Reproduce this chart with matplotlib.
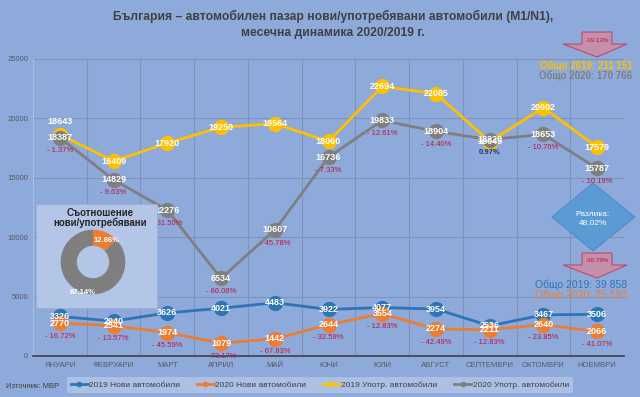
import matplotlib
matplotlib.use('Agg')
import matplotlib.pyplot as plt
from matplotlib.patches import Polygon, Rectangle
from matplotlib.lines import Line2D

plt.rcParams['font.family'] = ['Liberation Sans', 'DejaVu Sans']

months = ['ЯНУАРИ', 'ФЕВРУАРИ', 'МАРТ', 'АПРИЛ', 'МАЙ', 'ЮНИ', 'ЮЛИ',
          'АВГУСТ', 'СЕПТЕМВРИ', 'ОКТОМВРИ', 'НОЕМВРИ']
new_2019 = [3326, 2940, 3626, 4021, 4483, 3922, 4077, 3954, 2536, 3467, 3506]
new_2020 = [2770, 2541, 1974, 1079, 1442, 2644, 3554, 2274, 2211, 2640, 2066]
new_pct = ['- 16.72%', '- 13.57%', '- 45.59%', '- 73.17%', '- 67.83%', '- 32.59%',
           '- 12.83%', '- 42.49%', '- 12.83%', '- 23.85%', '- 41.07%']
used_2019 = [18643, 16409, 17920, 19250, 19564, 18060, 22694, 22085, 18045, 20902, 17579]
used_2020 = [18387, 14829, 12276, 6534, 10607, 16736, 19833, 18904, 18220, 18653, 15787]
used_pct = ['- 1.37%', '- 9.63%', '- 31.50%', '- 66.06%', '- 45.78%', '- 7.33%',
            '- 12.61%', '- 14.40%', '0.97%', '- 10.76%', '- 10.19%']
share_labels = ['12.86%', '87.14%']
share_values = [12.86, 87.14]

W, H = 640, 397
BG = '#8eaadb'
C_NEW19 = '#2e75b6'
C_NEW20 = '#ed7d31'
C_USED19 = '#ffc000'
C_USED20 = '#7f7f7f'
RED = '#c0143c'


def fx(x):
    return x / W


def fy(y):
    return 1 - y / H


fig = plt.figure(figsize=(6.4, 3.97), dpi=100, facecolor=BG)

ax = fig.add_axes([fx(33), fy(356), fx(624 - 33), (356 - 59) / H])
ax.set_facecolor(BG)
x = range(len(months))

series = [
    (new_2019, C_NEW19, '2019 Нови автомобили'),
    (new_2020, C_NEW20, '2020 Нови автомобили'),
    (used_2019, C_USED19, '2019 Употр. автомобили'),
    (used_2020, C_USED20, '2020 Употр. автомобили'),
]
for vals, col, name in series:
    ax.plot(x, vals, color=col, lw=2, marker='o', ms=10, label=name, zorder=3)

for i in x:
    for vals in (new_2019, new_2020, used_2020):
        ax.text(i, vals[i], str(vals[i]), color='white', fontsize=6.5,
                fontweight='bold', ha='center', va='center', zorder=5)
    dy = 1100 if i == 0 else 0
    ax.text(i, used_2019[i] + dy, str(used_2019[i]), color='white', fontsize=6.5,
            fontweight='bold', ha='center', va='center', zorder=5)
    ax.text(i, new_2020[i] - 1100, new_pct[i], color=RED, fontsize=5.5,
            ha='center', va='center', zorder=5)
    pc = '#203864' if not used_pct[i].startswith('-') else RED
    ax.text(i, used_2020[i] - 1100, used_pct[i], color=pc, fontsize=5.5,
            ha='center', va='center', zorder=5, fontweight='bold' if pc != RED else 'normal')

ax.set_xlim(-0.5, len(months) - 0.5)
ax.set_ylim(0, 25000)
ax.set_yticks(range(0, 25001, 5000))
ax.set_xticks(list(x))
ax.set_xticklabels(months)
ax.set_xticks([i + 0.5 for i in range(len(months) - 1)], minor=True)
ax.tick_params(axis='both', which='both', length=0, labelsize=5.5, colors='#595959')
ax.tick_params(axis='x', pad=4)
ax.grid(axis='y', which='major', color='#7f93b8', lw=0.8)
ax.grid(axis='x', which='minor', color='#7f93b8', lw=0.8)
for s in ['top', 'right']:
    ax.spines[s].set_visible(False)
ax.spines['left'].set_color('#a9bde3')
ax.spines['bottom'].set_color('#404040')
ax.spines['bottom'].set_linewidth(1.2)

# title
fig.text(0.52, fy(16), 'България – автомобилен пазар нови/употребявани автомобили (М1/N1),',
         ha='center', va='center', fontsize=8.7, fontweight='bold', color='#404040')
fig.text(0.52, fy(33), 'месечна динамика 2020/2019 г.',
         ha='center', va='center', fontsize=8.7, fontweight='bold', color='#404040')

# totals
fig.text(fx(632), fy(66), 'Общо 2019: 211 151', ha='right', va='center',
         fontsize=7, fontweight='bold', color=C_USED19)
fig.text(fx(632), fy(76), 'Общо 2020: 170 766', ha='right', va='center',
         fontsize=7, fontweight='bold', color=C_USED20)
fig.text(fx(627), fy(285), 'Общо 2019: 39 858', ha='right', va='center',
         fontsize=7.5, color=C_NEW19)
fig.text(fx(627), fy(295), 'Общо 2020: 25 193', ha='right', va='center',
         fontsize=7.5, color=C_NEW20)


def down_arrow(top, label):
    body = [(582, top), (612, top), (612, top + 12), (627, top + 12),
            (597, top + 25), (563, top + 12), (582, top + 12)]
    fig.patches.append(Polygon([(fx(a), fy(b)) for a, b in body], closed=True,
                               transform=fig.transFigure, facecolor='#d6869a',
                               edgecolor='#c0304f', lw=0.8, alpha=0.75, zorder=4))
    fig.text(fx(597), fy(top + 8), label, ha='center', va='center',
             fontsize=4.5, color=RED, zorder=5)


down_arrow(32, '-19.13%')
down_arrow(253, '-36.79%')

# diamond
dia = [(593, 183), (635, 217), (593, 251), (552, 217)]
fig.patches.append(Polygon([(fx(a), fy(b)) for a, b in dia], closed=True,
                           transform=fig.transFigure, facecolor='#5b9bd5',
                           edgecolor='#4a86c0', lw=0.6, zorder=4))
fig.text(fx(593), fy(214), 'Разлика:', ha='center', va='center', fontsize=6,
         color='white', zorder=5)
fig.text(fx(593), fy(223), '48.02%', ha='center', va='center', fontsize=6,
         color='white', zorder=5)

# donut inset
fig.patches.append(Rectangle((fx(36), fy(308)), fx(157 - 36), (308 - 204) / H,
                             transform=fig.transFigure, facecolor='#b4c6e7',
                             edgecolor='#9aaed3', lw=0.6, zorder=4))
fig.text(fx(100), fy(213), 'Съотношение', ha='center', va='center', fontsize=7,
         fontweight='bold', color='#262626', zorder=6)
fig.text(fx(100), fy(223), 'нови/употребявани', ha='center', va='center', fontsize=7,
         fontweight='bold', color='#262626', zorder=6)
pax = fig.add_axes([fx(60), fy(295), fx(66), 66 / H])
pax.set_zorder(6)
pax.pie(share_values, colors=[C_NEW20, C_USED20], startangle=90, counterclock=False,
        wedgeprops=dict(width=0.5, edgecolor='none'))
pax.set_xlim(-1.02, 1.02)
pax.set_ylim(-1.02, 1.02)
pax.set_aspect('equal')
fig.text(fx(107), fy(241), share_labels[0], ha='center', va='center', fontsize=5.5,
         color='white', fontweight='bold', zorder=7)
fig.text(fx(83), fy(292), share_labels[1], ha='center', va='center', fontsize=5.5,
         color='white', fontweight='bold', zorder=7)

# legend
handles = [Line2D([0], [0], color=c, lw=2, marker='o', ms=3) for _, c, _ in series]
leg = fig.legend(handles, [n for _, _, n in series], ncol=4, loc='center',
                 bbox_to_anchor=(fx(320), fy(385)), fontsize=6, frameon=True,
                 handlelength=2.0, columnspacing=2.0, borderpad=0.45, handletextpad=0.2)
leg.get_frame().set_facecolor('#b4c6e7')
leg.get_frame().set_edgecolor('none')
leg.get_frame().set_boxstyle('square', pad=0)
for t in leg.get_texts():
    t.set_color('#404040')
fig.text(fx(6), fy(386), 'Източник: МВР', ha='left', va='center', fontsize=5.5,
         color='#404040')

fig.savefig('out.png', dpi=100, facecolor=BG)
